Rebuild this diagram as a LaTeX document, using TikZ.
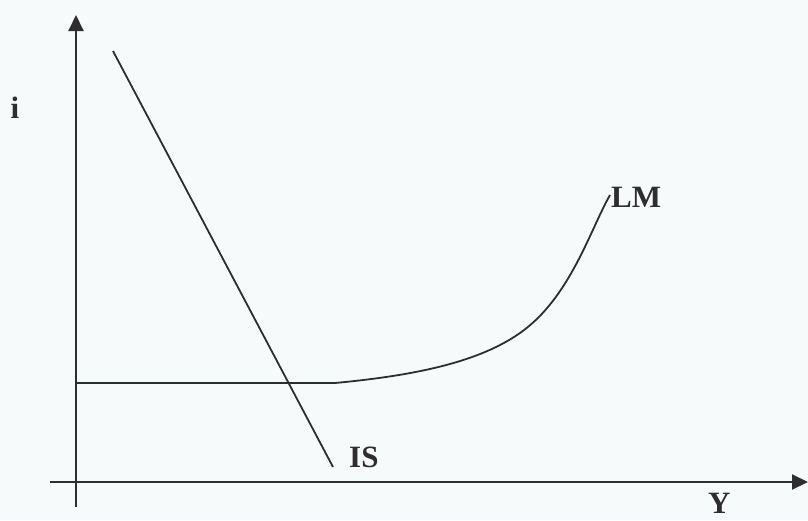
\documentclass[tikz,border=0pt]{standalone}
\usepackage{fontspec}
\setmainfont{Liberation Serif}
\usetikzlibrary{arrows.meta}
\definecolor{bgc}{HTML}{F7FAFA}
\definecolor{ink}{HTML}{2E2E30}
\begin{document}
\begin{tikzpicture}[x=1pt,y=-1pt,
  curve/.style={draw=ink,line width=1.8pt},
  axis/.style={draw=ink,line width=2pt,-{Triangle[length=16pt,width=15pt]}},
  lbl/.style={font=\fontsize{31}{36}\selectfont\bfseries,text=ink,inner sep=0pt}]
\fill[bgc] (0,0) rectangle (808,520);
\useasboundingbox (0,0) rectangle (808,520);
% axes
\coordinate (ybot) at (76,507);
\coordinate (ytop) at (76,15);
\coordinate (xl) at (50,482);
\coordinate (xr) at (808,482);
\draw[axis] (ybot) -- (ytop);
\draw[axis] (xl) -- (xr);
% IS
\coordinate (is1) at (113,51);
\coordinate (is2) at (333,467);
\draw[curve] (is1) -- (is2);
% LM
\coordinate (lm0) at (76,383);
\coordinate (lm1) at (335,383);
\coordinate (lm2) at (520,333);
\coordinate (lm3) at (610,195);
\draw[curve] (lm0) -- (lm1) .. controls (420,375) and (480,361) .. (lm2)
  .. controls (570,298) and (590,230) .. (lm3);
% labels
\node[lbl,anchor=base] (li) at (15,118) {i};
\node[lbl,anchor=base west] (lis) at (349,467) {IS};
\node[lbl,anchor=base west] (llm) at (611,207) {LM};
\node[lbl,anchor=base west] (ly) at (708,513) {Y};
\end{tikzpicture}
\end{document}
